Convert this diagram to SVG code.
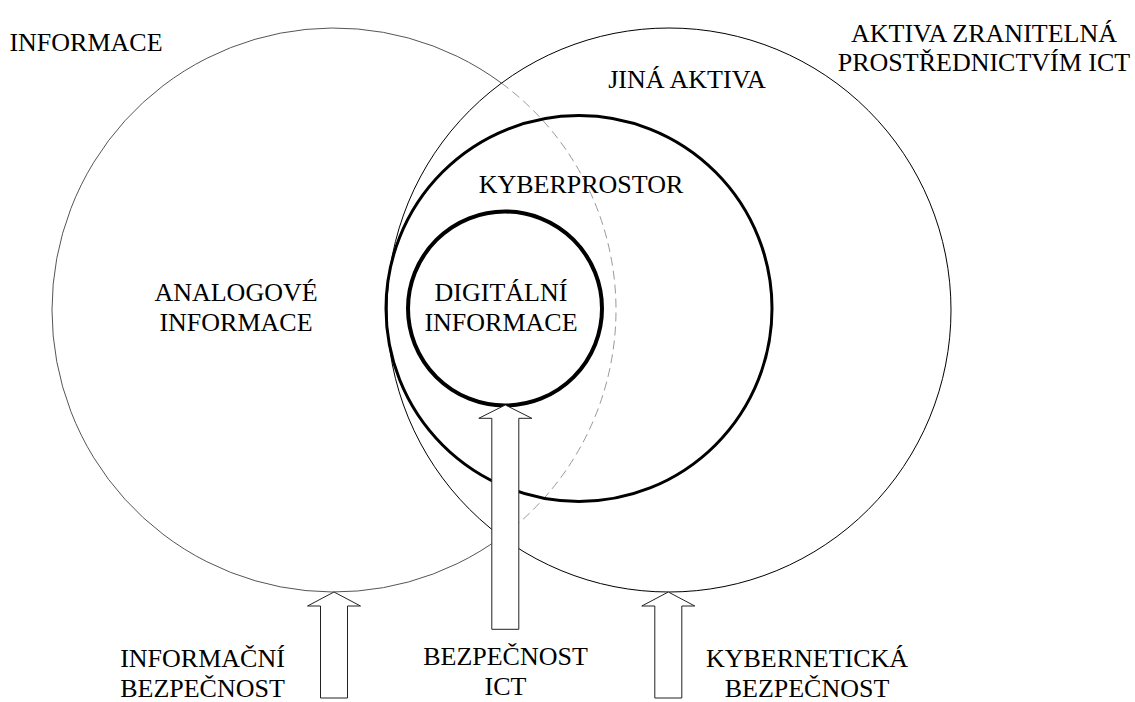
<svg xmlns="http://www.w3.org/2000/svg" width="1135" height="702" viewBox="0 0 1135 702" font-family="Liberation Serif, serif">
<style>
text{font-family:'Liberation Serif',serif;font-size:26px;fill:#000;text-anchor:middle}
.thin{fill:none;stroke:#000;stroke-width:1}
.grey{fill:none;stroke:#555;stroke-width:1}
.dash{fill:none;stroke:#999;stroke-width:1;stroke-dasharray:9 5}
.kyb{fill:none;stroke:#000;stroke-width:3}
.dig{fill:none;stroke:#000;stroke-width:4}
.arrow{fill:#fff;stroke:#222;stroke-width:1;stroke-linejoin:miter}
</style>
<rect width="1135" height="702" fill="#fff"/>
<g id="informace">
<path class="grey" d="M501.5 83.14 A282 282 0 1 0 501.5 536.86"/>
<path class="dash" d="M501.5 83.14 A282 282 0 0 1 501.5 536.86"/>
<text x="86" y="51">INFORMACE</text>
<text x="236" y="301">ANALOGOVÉ</text>
<text x="236" y="331">INFORMACE</text>
</g>
<g id="aktiva">
<circle class="thin" cx="669" cy="310" r="282"/>
<text x="984" y="42">AKTIVA ZRANITELNÁ</text>
<text x="984" y="71">PROSTŘEDNICTVÍM ICT</text>
<text x="687" y="88">JINÁ AKTIVA</text>
</g>
<g id="kyberprostor">
<circle class="kyb" cx="579" cy="308.5" r="193"/>
<text x="581" y="193">KYBERPROSTOR</text>
</g>
<g id="digitalni">
<circle class="dig" cx="505" cy="308.5" r="97"/>
<text x="501" y="301">DIGITÁLNÍ</text>
<text x="501" y="331">INFORMACE</text>
</g>
<g id="connectors">
<polygon class="arrow" points="334,592 360.5,606 347.5,606 347.5,698 320.5,698 320.5,606 307.5,606"/>
<polygon class="arrow" points="505.3,405 531.8,418.3 518.8,418.3 518.8,629.3 491.8,629.3 491.8,418.3 478.8,418.3"/>
<polygon class="arrow" points="668.3,592 694.8,606 681.8,606 681.8,698 654.8,698 654.8,606 641.8,606"/>
</g>
<g id="label-informacni">
<text x="202.5" y="667">INFORMAČNÍ</text>
<text x="202.5" y="697">BEZPEČNOST</text>
</g>
<g id="label-ict">
<text x="505.5" y="665">BEZPEČNOST</text>
<text x="505.5" y="695">ICT</text>
</g>
<g id="label-kyber">
<text x="807" y="667">KYBERNETICKÁ</text>
<text x="807" y="697">BEZPEČNOST</text>
</g>
</svg>
